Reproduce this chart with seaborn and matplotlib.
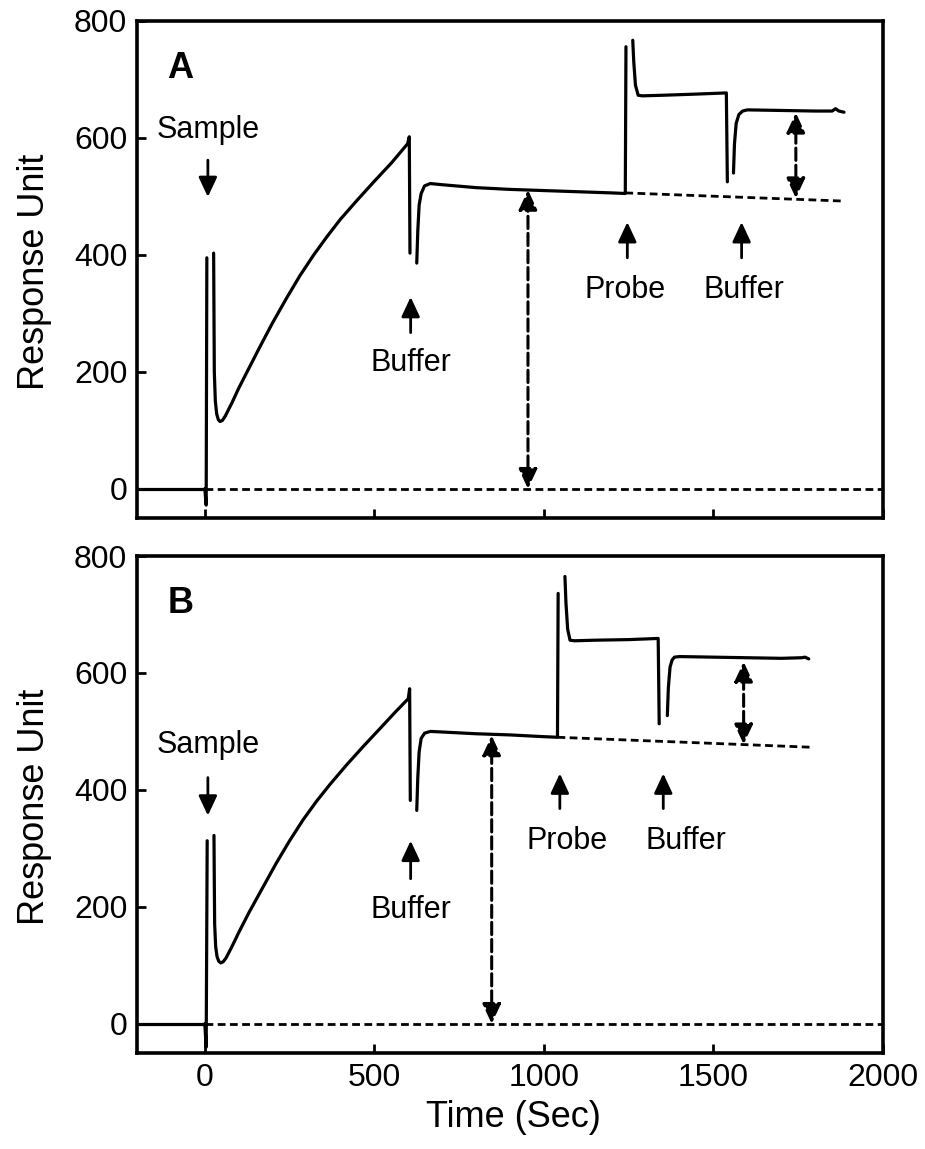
import matplotlib
matplotlib.use("Agg")
import matplotlib.pyplot as plt
import seaborn as sns

sns.set_style("ticks")
plt.rcParams['font.family'] = ['Liberation Sans', 'DejaVu Sans']
for k in ['text.color', 'axes.labelcolor', 'xtick.color', 'ytick.color', 'axes.edgecolor']:
    plt.rcParams[k] = 'black'

# ---------------- Panel A data (time in s, response units) ----------------
A_base_t = [-200, -100, 0]
A_base_r = [0, 0, 0]
A_s1_t = [0, 4, 6]
A_s1_r = [0, -28, 395]
A_s2_t = [26, 27, 28, 31, 35, 40, 45, 52, 60, 80, 100, 130, 160, 200, 240, 280,
          320, 360, 400, 450, 500, 550, 598, 603, 605]
A_s2_r = [403, 300, 200, 150, 128, 118, 115, 117, 124, 147, 172, 206, 240, 284, 325, 364,
          399, 431, 461, 494, 526, 557, 590, 602, 403]
A_s3_t = [625, 628, 632, 638, 648, 665, 700, 800, 900, 1000, 1100, 1200, 1240, 1242]
A_s3_r = [386, 440, 485, 505, 518, 522, 520, 515, 512, 510, 508, 506, 505, 756]
A_s4_t = [1262, 1265, 1270, 1278, 1290, 1350, 1450, 1538, 1541]
A_s4_r = [767, 730, 690, 673, 672, 673, 675, 677, 525]
A_s5_t = [1559, 1562, 1567, 1575, 1586, 1600, 1700, 1800, 1850, 1860, 1870, 1885]
A_s5_r = [540, 590, 625, 640, 646, 648, 647, 646, 646, 650, 646, 644]
A_ext_t = [1240, 1885]
A_ext_r = [506, 492]
A_dbl = [(953, 0, 511), (1743, 497, 643)]
A_labels = [("Sample", 9, 614, 562, 499), ("Buffer", 607, 215, 267, 328),
            ("Probe", 1246, 340, 395, 456), ("Buffer", 1583, 340, 395, 456)]
A_label_x = [9, 607, 1240, 1589]

# ---------------- Panel B data ----------------
B_base_t = [-200, -100, 0]
B_base_r = [0, 0, 0]
B_s1_t = [0, 4, 7]
B_s1_r = [0, -40, 313]
B_s2_t = [27, 28, 29, 32, 36, 41, 47, 54, 62, 80, 100, 130, 169, 210, 250, 290,
          330, 370, 420, 470, 520, 560, 600, 604, 606]
B_s2_r = [322, 240, 170, 132, 115, 107, 104, 106, 112, 132, 156, 190, 231, 274, 313, 349,
          381, 410, 444, 476, 507, 532, 556, 573, 382]
B_s3_t = [625, 628, 632, 638, 648, 665, 700, 800, 900, 1000, 1040, 1042]
B_s3_r = [365, 420, 465, 488, 497, 500, 499, 496, 494, 491, 490, 736]
B_s4_t = [1062, 1065, 1070, 1077, 1090, 1150, 1250, 1337, 1340]
B_s4_r = [765, 720, 675, 656, 655, 656, 657, 659, 513]
B_s5_t = [1364, 1367, 1372, 1378, 1385, 1400, 1500, 1600, 1700, 1760, 1770, 1781]
B_s5_r = [527, 575, 610, 622, 627, 628, 627, 626, 625, 626, 627, 624]
B_ext_t = [1040, 1785]
B_ext_r = [490, 473]
B_dbl = [(846, 0, 493), (1589, 478, 619)]
B_labels = [("Sample", 9, 476, 421, 356), ("Buffer", 607, 195, 248, 313),
            ("Probe", 1047, 313, 368, 428), ("Buffer", 1352, 313, 368, 428)]
B_label_x = [9, 607, 1068, 1420]

XTICKS = [0, 500, 1000, 1500, 2000]
YTICKS = [0, 200, 400, 600, 800]

W, H = 925, 1149
fig = plt.figure(figsize=(W / 100, H / 100), dpi=100)
axA = fig.add_axes([137 / W, 1 - 518 / H, (883 - 137) / W, (518 - 21) / H])
axB = fig.add_axes([137 / W, 1 - 1053 / H, (883 - 137) / W, (1053 - 556) / H])

TRACE_LW = 2.3
dot_style = (0, (2.8, 1.6))


def draw_panel(ax, segs, ext, dbls, labels, label_x, letter, show_x):
    for t, r in segs:
        sns.lineplot(x=t, y=r, ax=ax, color='black', lw=TRACE_LW, sort=False,
                     estimator=None, solid_capstyle='round', solid_joinstyle='round')
    # zero baseline (dotted)
    sns.lineplot(x=[0, 2000], y=[0, 0], ax=ax, color='black', lw=2.0,
                 linestyle=dot_style, sort=False, estimator=None)
    # extrapolated baseline
    sns.lineplot(x=ext[0], y=ext[1], ax=ax, color='black', lw=2.0,
                 linestyle=dot_style, sort=False, estimator=None)
    # dashed double arrows
    for x, y0, y1 in dbls:
        ax.annotate('', xy=(x, y1), xytext=(x, y0),
                    arrowprops=dict(arrowstyle='<|-|>,head_length=0.6,head_width=0.28',
                                    mutation_scale=20, lw=2.2, color='black',
                                    linestyle=(0, (4, 1.6)), shrinkA=0, shrinkB=0))
    # event labels with solid arrows
    for (txt, ax_x, ty, base, tip), lx in zip(labels, label_x):
        ax.annotate('', xy=(ax_x, tip), xytext=(ax_x, base),
                    arrowprops=dict(arrowstyle='-|>,head_length=0.6,head_width=0.28',
                                    mutation_scale=20, lw=2.0, color='black',
                                    shrinkA=0, shrinkB=0))
        ax.text(lx, ty, txt, ha='center', va='center', fontsize=22, color='black')
    ax.text(0.058, 0.905, letter, transform=ax.transAxes, fontsize=26,
            fontweight='bold', ha='center', va='center', color='black')

    ax.set_xlim(-200, 2000)
    ax.set_ylim(-50, 800)
    ax.set_xticks(XTICKS)
    ax.set_yticks(YTICKS)
    ax.tick_params(direction='in', length=6.5, width=2, labelsize=23, pad=7,
                   colors='black')
    for s in ax.spines.values():
        s.set_linewidth(2.6)
        s.set_visible(True)
        s.set_color('black')
    if show_x:
        ax.set_xlabel('Time (Sec)', fontsize=26, va='center')
        ax.xaxis.set_label_coords(0.505, -0.129)
    else:
        ax.set_xlabel('')
        ax.tick_params(labelbottom=False)
    ax.set_ylabel('Response Unit', fontsize=26, va='center')
    ax.yaxis.set_label_coords(-0.137, 0.495)


draw_panel(axA,
           [(A_base_t, A_base_r), (A_s1_t, A_s1_r), (A_s2_t, A_s2_r),
            (A_s3_t, A_s3_r), (A_s4_t, A_s4_r), (A_s5_t, A_s5_r)],
           (A_ext_t, A_ext_r), A_dbl, A_labels, A_label_x, 'A', False)
draw_panel(axB,
           [(B_base_t, B_base_r), (B_s1_t, B_s1_r), (B_s2_t, B_s2_r),
            (B_s3_t, B_s3_r), (B_s4_t, B_s4_r), (B_s5_t, B_s5_r)],
           (B_ext_t, B_ext_r), B_dbl, B_labels, B_label_x, 'B', True)

fig.savefig('out.png', dpi=100)
